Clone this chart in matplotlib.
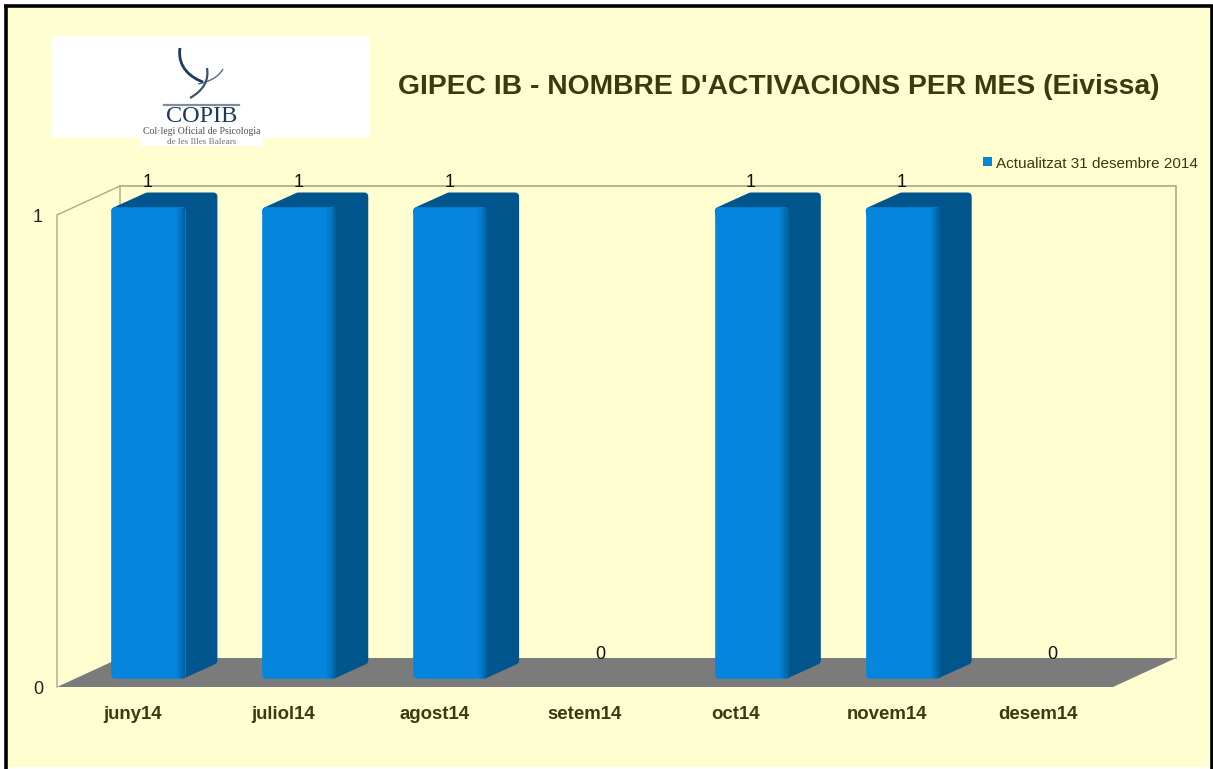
import numpy as np
import matplotlib
matplotlib.use('Agg')
import matplotlib.pyplot as plt
from matplotlib.patches import Rectangle, Polygon
from matplotlib.path import Path
from matplotlib.patches import PathPatch

# dades del grafic
mesos = ['juny14', 'juliol14', 'agost14', 'setem14', 'oct14', 'novem14', 'desem14']
activacions = [1, 1, 1, 0, 1, 1, 0]
yticks = [0, 1]
titol = "GIPEC IB - NOMBRE D'ACTIVACIONS PER MES (Eivissa)"
llegenda = 'Actualitzat 31 desembre 2014'

# colors
FONS = '#fffed0'
BLAU = '#0585dc'
BLAU_FOSC = '#00558c'
GRIS = '#7b7b7b'
PARET = '#a9a98a'
TEXT = '#3b3a0c'

W, H = 1213, 769
plt.rcParams['font.family'] = ['Liberation Sans', 'DejaVu Sans']
fig = plt.figure(figsize=(W / 100, H / 100), dpi=100, facecolor='white')


def px_box(x0, y0, x1, y1):
    # caixa en pixels (origen dalt a l'esquerra) -> coordenades de figura
    return [x0 / W, 1 - y1 / H, (x1 - x0) / W, (y1 - y0) / H]


# marc i fons
bg = fig.add_axes([0, 0, 1, 1])
bg.set_xlim(0, W)
bg.set_ylim(H, 0)
bg.axis('off')
bg.add_patch(Rectangle((5, 5), W - 6.5, H - 7, fc=FONS, ec='none'))
bg.plot([5.5, 5.5], [H, 5.5], color='black', lw=2.6, solid_capstyle='butt')
bg.plot([4, W], [5.5, 5.5], color='black', lw=2.6, solid_capstyle='butt')
bg.plot([W - 1, W - 1], [5, H], color='black', lw=2.6, solid_capstyle='butt')

# logo
bg.add_patch(Rectangle((51, 36), 319, 102, fc='white', ec='none'))
bg.add_patch(Rectangle((140, 136), 123, 10, fc='white', ec='none'))
C_LOGO = '#1c3a5c'
bg.add_patch(PathPatch(Path([(180, 48), (177, 68), (192, 78), (203, 82)],
                            [Path.MOVETO, Path.CURVE4, Path.CURVE4, Path.CURVE4]),
                       fc='none', ec=C_LOGO, lw=2.0))
bg.add_patch(PathPatch(Path([(223, 69), (218, 78), (208, 82), (198, 84)],
                            [Path.MOVETO, Path.CURVE4, Path.CURVE4, Path.CURVE4]),
                       fc='none', ec='#55687f', lw=1.0))
bg.add_patch(PathPatch(Path([(207, 68), (209, 80), (204, 90), (190, 98)],
                            [Path.MOVETO, Path.CURVE4, Path.CURVE4, Path.CURVE4]),
                       fc='none', ec='#3a526e', lw=1.6))
bg.plot([164, 239], [105, 105], color='#7f8c99', lw=1.6)
bg.text(201.5, 117, 'COPIB', family='Liberation Serif', fontsize=17.5,
        color=C_LOGO, ha='center', va='center')
bg.text(201.5, 131.5, "Col·legi Oficial de Psicologia", family='Liberation Serif',
        fontsize=7.0, color='#4a4f58', ha='center', va='center')
bg.text(201.5, 141.5, 'de les Illes Balears', family='Liberation Serif',
        fontsize=6.6, color='#6b6f76', ha='center', va='center')

# titol i llegenda
bg.text(779, 87, titol, fontsize=20.35, fontweight='bold', color=TEXT,
        ha='center', va='center')
bg.add_patch(Rectangle((982.5, 157), 9, 9, fc=BLAU, ec='none'))
bg.text(996, 163.5, llegenda, fontsize=11, color=TEXT, ha='left', va='center')

# eixos: la cara frontal del terra va de x=57 a x=1113 i y=0/1 a 687/215 px
ax = fig.add_axes(px_box(57, 215, 1113, 687))
ax.patch.set_alpha(0)
ax.set_xlim(0, len(mesos))
ax.set_ylim(0, 1)
ax.axis('off')

n = len(mesos)
px_x, px_y = 1056 / n, 472  # pixels per unitat
prof_x, prof_y = 63 / px_x, 29 / px_y  # fons de la caixa 3d

# terra i parets
ax.add_patch(Polygon([(0, 0), (n, 0), (n + prof_x, prof_y), (prof_x, prof_y)],
                     fc=GRIS, ec='none', clip_on=False, zorder=1))
ax.plot([0, 0, prof_x, prof_x], [0, 1, 1 + prof_y, prof_y], color=PARET, lw=1,
        clip_on=False, zorder=1.5)
ax.plot([prof_x, n + prof_x, n + prof_x], [1 + prof_y, 1 + prof_y, prof_y],
        color=PARET, lw=1.2, clip_on=False, zorder=0.5)

# barres amb cara superior i lateral
x = np.arange(n) + 0.5
valors = np.array(activacions, dtype=float)
amplada = 0.49
base_x, base_y = 16 / px_x, 8 / px_y
barra_x, barra_y = 32 / px_x, 14.5 / px_y
# el gruix de la vora arrodoneix les cantonades
gruix = 5.5
radi_x, radi_y = gruix / 2 * 100 / 72 / px_x, gruix / 2 * 100 / 72 / px_y
hi_ha = valors > 0
xb, vb = x[hi_ha] + base_x, valors[hi_ha]
for xi, v in zip(xb, vb):
    esq, dre = xi - amplada / 2, xi + amplada / 2
    ax.add_patch(Polygon([(dre - radi_x, base_y + radi_y),
                          (dre + barra_x - radi_x, base_y + barra_y + radi_y),
                          (dre + barra_x - radi_x, base_y + v + barra_y - radi_y),
                          (esq + barra_x + radi_x, base_y + v + barra_y - radi_y),
                          (esq + radi_x, base_y + v - radi_y)],
                         fc=BLAU_FOSC, ec=BLAU_FOSC, lw=gruix, joinstyle='round',
                         clip_on=False, zorder=2))
ax.bar(xb, vb - 2 * radi_y, width=amplada - 2 * radi_x, bottom=base_y + radi_y,
       color=BLAU, edgecolor=BLAU, linewidth=gruix, joinstyle='round',
       clip_on=False, zorder=3)
# degradat suau a la vora dreta de la cara frontal
for k, alfa in enumerate([0.15, 0.3, 0.5, 0.7]):
    ample = 2.2 / px_x
    ax.bar(xb + amplada / 2 - (3.5 - k) * ample, vb - 0.004, width=ample,
           bottom=base_y + 0.002, color=BLAU_FOSC, alpha=alfa, linewidth=0,
           clip_on=False, zorder=3.2)

# etiquetes de valor
for xi, v in zip(x + base_x, valors):
    ax.annotate(f'{v:.0f}', (xi, v + prof_y), xytext=(-0.7, 2.6),
                textcoords='offset points', ha='center', va='center',
                fontsize=13, color='#111111', annotation_clip=False, zorder=4)

# etiquetes dels eixos
for xi, mes in zip(x, mesos):
    ax.annotate(mes, (xi, 0), xytext=(0, -19.5), textcoords='offset points',
                ha='center', va='center', fontsize=13.4, fontweight='bold',
                color=TEXT, annotation_clip=False)
for t in yticks:
    ax.annotate(str(t), (0, t), xytext=(-13.7, -1.5), textcoords='offset points',
                ha='center', va='center', fontsize=13, color='#222222',
                annotation_clip=False)

fig.savefig('out.png', dpi=100, facecolor=fig.get_facecolor())
